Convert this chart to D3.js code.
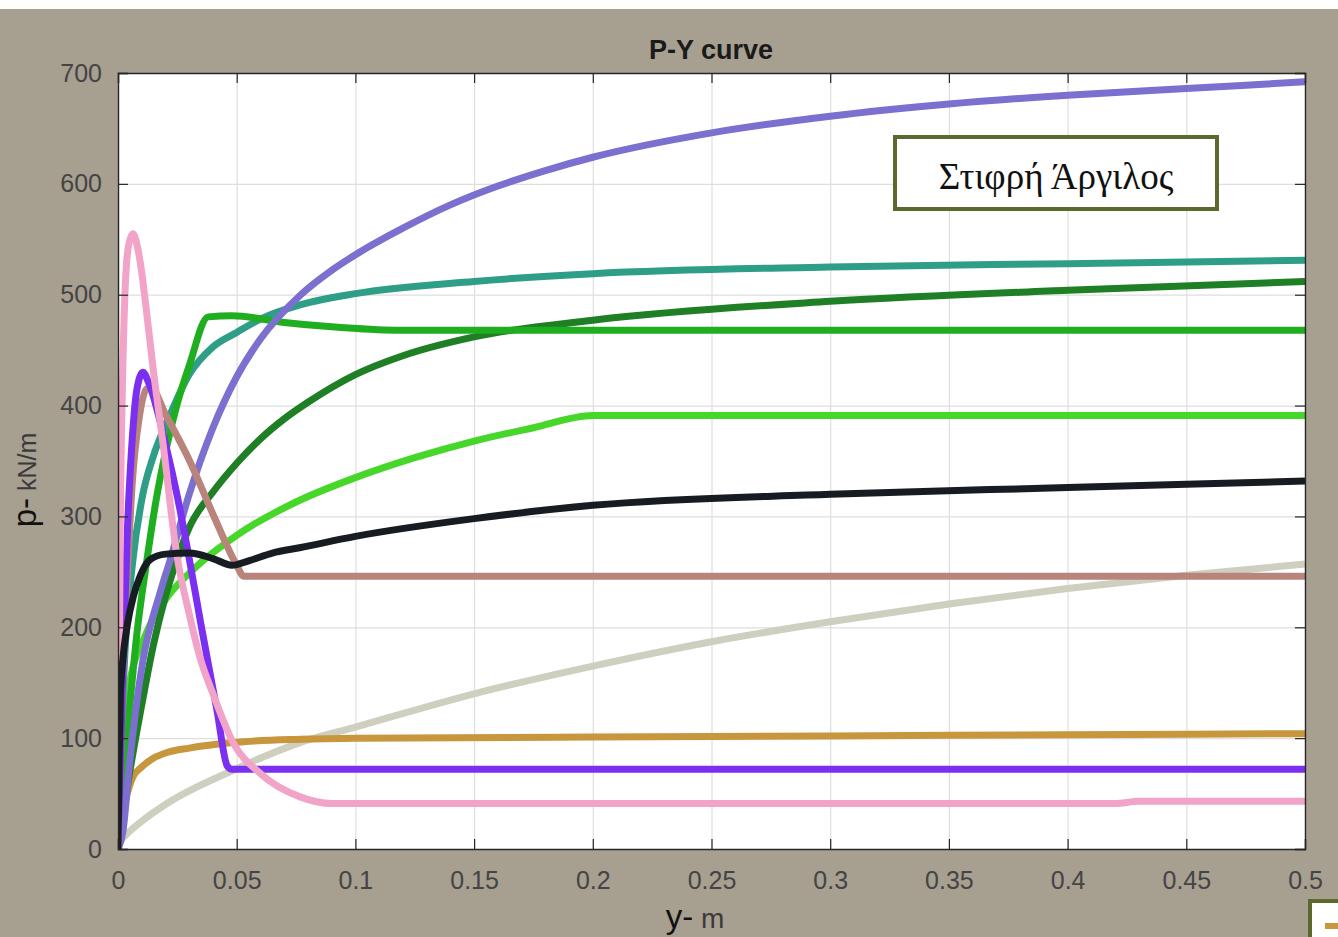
<!DOCTYPE html>
<html>
<head>
<meta charset="utf-8">
<script src="https://cdn.jsdelivr.net/npm/d3@7"></script>
<style>
  html, body { margin: 0; padding: 0; background: #ffffff; }
  svg { display: block; }
</style>
</head>
<body>
<svg id="chart"></svg>
<script>
// values: [y (m), p (kN/m)]
const purpleBlue = [[0,0],[0.002,15],[0.005,80],[0.0105,170],[0.0177,231],[0.022,261],[0.03,320],[0.04,380],[0.05,426],[0.06,460],[0.077,500],[0.09,522],[0.1,536],[0.12,560],[0.14,581],[0.16,598],[0.18,612],[0.2,624],[0.25,646],[0.3,661],[0.35,672],[0.4,680],[0.45,686],[0.5,692]];
const teal = [[0,0],[0.001,80],[0.003,180],[0.0063,261],[0.01,315],[0.015,355],[0.0206,385],[0.03,428],[0.04,453],[0.05,466],[0.06,478],[0.077,491],[0.1,501],[0.15,512],[0.2,519],[0.3,525],[0.4,528],[0.5,531]];
const green = [[0,0],[0.002,60],[0.005,130],[0.008,195],[0.012,258],[0.016,314],[0.02,358],[0.025,402],[0.03,436],[0.038,480],[0.048,481],[0.07,475],[0.09,471],[0.117,468],[0.3,468],[0.5,468]];
const darkGreen = [[0,0],[0.005,70],[0.01,130],[0.015,185],[0.02,228],[0.025,262],[0.03,290],[0.04,322],[0.05,348],[0.06,370],[0.07,388],[0.08,403],[0.1,428],[0.12,445],[0.15,462],[0.2,477],[0.3,494],[0.4,504],[0.5,512]];
const lime = [[0,0],[0.001,60],[0.002,100],[0.0042,141],[0.012,195],[0.02,225],[0.0316,252],[0.05,283],[0.075,313],[0.1,335],[0.125,353],[0.15,368],[0.175,380],[0.2,391],[0.3,391],[0.5,391]];
const black = [[0,0],[0.0005,80],[0.001,140],[0.002,170],[0.004,203],[0.0065,228],[0.0093,246],[0.0135,261],[0.02,266],[0.03,267],[0.04,262],[0.048,256],[0.055,260],[0.065,267],[0.077,272],[0.1,282],[0.15,298],[0.2,310],[0.3,320],[0.4,326],[0.5,332]];
const brown = [[0,0],[0.002,150],[0.004,250],[0.006,330],[0.009,390],[0.012,415],[0.014,416],[0.02,392],[0.03,351],[0.04,302],[0.05,256],[0.053,246],[0.2,246],[0.5,246]];
const violet = [[0,0],[0.002,160],[0.004,290],[0.006,370],[0.008,415],[0.0105,430],[0.013,420],[0.0206,360],[0.025,318],[0.03,262],[0.035,202],[0.0417,125],[0.046,75],[0.048,72],[0.2,72],[0.5,72]];
const pink = [[0,0],[0.001,300],[0.002,430],[0.003,505],[0.0045,545],[0.0063,555],[0.008,545],[0.01,520],[0.012,485],[0.015,430],[0.019,365],[0.0248,265],[0.03,212],[0.0345,173],[0.04,140],[0.0485,96],[0.06,68],[0.0767,47],[0.09,41],[0.2,41],[0.42,41],[0.43,43],[0.5,43]];
const gold = [[0,0],[0.001,20],[0.003,42],[0.0063,65],[0.01,74],[0.015,82],[0.0206,87],[0.03,91],[0.0485,96],[0.0767,99],[0.1,100],[0.2,101],[0.3,102],[0.4,103],[0.5,104]];
const beige = [[0,5],[0.003,12],[0.01,25],[0.0206,41],[0.0485,71],[0.0767,96],[0.1,110],[0.15,140],[0.2,165],[0.25,187],[0.3,205],[0.35,221],[0.4,235],[0.45,247],[0.5,257]];

// drawing order, bottom to top
const seriesList = [beige, gold, lime, darkGreen, teal, green, purpleBlue, brown, violet, pink, black];
const seriesColors = ['#cfcfbf', '#c8963c', '#47d72a', '#1f7f25', '#2e9e87', '#1fae1f', '#7b6fd0', '#b8847c', '#7b2ff0', '#f1a3c8', '#161c22'];

const xTicks = [0, 0.05, 0.1, 0.15, 0.2, 0.25, 0.3, 0.35, 0.4, 0.45, 0.5];
const yTicks = [0, 100, 200, 300, 400, 500, 600, 700];

const titleText = 'P-Y curve';
const legendText = 'Στιφρή Άργιλος';

const width = 1338;
const height = 937;
const plot = { left: 118, right: 1305, top: 73, bottom: 849 };

const svg = d3.select('#chart')
  .attr('width', width)
  .attr('height', height);

// figure background (grey, with a white strip on top)
svg.append('rect')
  .attr('x', 0).attr('y', 9)
  .attr('width', width).attr('height', height - 9)
  .attr('fill', '#a79f90');

const x = d3.scaleLinear().domain([0, 0.5]).range([plot.left, plot.right]);
const y = d3.scaleLinear().domain([0, 700]).range([plot.bottom, plot.top]);

svg.append('rect')
  .attr('x', plot.left).attr('y', plot.top)
  .attr('width', plot.right - plot.left).attr('height', plot.bottom - plot.top)
  .attr('fill', '#ffffff');

// grid
const grid = svg.append('g').attr('class', 'grid');
grid.append('g')
  .attr('transform', `translate(0,${plot.bottom})`)
  .call(d3.axisBottom(x).tickValues(xTicks).tickSize(-(plot.bottom - plot.top)).tickFormat(''));
grid.append('g')
  .attr('transform', `translate(${plot.left},0)`)
  .call(d3.axisLeft(y).tickValues(yTicks).tickSize(-(plot.right - plot.left)).tickFormat(''));
grid.selectAll('.domain').remove();
grid.selectAll('line').attr('stroke', '#dedede').attr('stroke-width', 1.2);

// curves
const clipId = 'plot-clip';
svg.append('clipPath').attr('id', clipId)
  .append('rect')
  .attr('x', plot.left).attr('y', plot.top - 4)
  .attr('width', plot.right - plot.left).attr('height', plot.bottom - plot.top + 4);

const line = d3.line()
  .x((d) => x(d[0]))
  .y((d) => y(d[1]))
  .curve(d3.curveMonotoneX);

svg.append('g')
  .attr('clip-path', `url(#${clipId})`)
  .selectAll('path')
  .data(seriesList)
  .enter()
  .append('path')
  .attr('d', line)
  .attr('fill', 'none')
  .attr('stroke', (d, i) => seriesColors[i])
  .attr('stroke-width', 7)
  .attr('stroke-linejoin', 'round');

// axes with inward ticks and labels
const tickColor = '#262626';
const labelColor = '#444444';
const fontAxis = '"Liberation Sans", Arial, sans-serif';

const xAxis = svg.append('g')
  .attr('transform', `translate(0,${plot.bottom})`)
  .call(d3.axisBottom(x).tickValues(xTicks).tickSize(-10).tickPadding(22).tickFormat((d) => d3.format('')(d)));
const yAxis = svg.append('g')
  .attr('transform', `translate(${plot.left},0)`)
  .call(d3.axisLeft(y).tickValues(yTicks).tickSize(-10).tickPadding(16));
const xTop = svg.append('g')
  .attr('transform', `translate(0,${plot.top})`)
  .call(d3.axisTop(x).tickValues(xTicks).tickSize(-10).tickFormat(''));
const yRight = svg.append('g')
  .attr('transform', `translate(${plot.right},0)`)
  .call(d3.axisRight(y).tickValues(yTicks).tickSize(-10).tickFormat(''));

[xAxis, yAxis, xTop, yRight].forEach((g) => {
  g.select('.domain').attr('stroke', tickColor).attr('stroke-width', 1.4);
  g.selectAll('.tick line').attr('stroke', tickColor).attr('stroke-width', 1.2);
  g.selectAll('.tick text')
    .attr('fill', labelColor)
    .style('font-family', fontAxis)
    .style('font-size', '25px');
});

// title and axis labels
svg.append('text')
  .attr('x', 711).attr('y', 59)
  .attr('text-anchor', 'middle')
  .style('font-family', fontAxis)
  .style('font-size', '27px')
  .style('font-weight', 'bold')
  .attr('fill', '#1a1a1a')
  .text(titleText);

const xLabel = svg.append('text')
  .attr('x', 695).attr('y', 928)
  .attr('text-anchor', 'middle')
  .style('font-family', fontAxis)
  .attr('fill', '#111');
xLabel.append('tspan').style('font-size', '33px').text('y-');
xLabel.append('tspan').style('font-size', '28px').attr('fill', '#3a3a3a').text(' m');

const yLabel = svg.append('text')
  .attr('transform', 'translate(36,480) rotate(-90)')
  .attr('text-anchor', 'middle')
  .style('font-family', fontAxis)
  .attr('fill', '#111');
yLabel.append('tspan').style('font-size', '33px').text('p-');
yLabel.append('tspan').style('font-size', '25px').attr('fill', '#3a3a3a').text(' kN/m');

// legend box
svg.append('rect')
  .attr('x', 895).attr('y', 137)
  .attr('width', 322).attr('height', 72)
  .attr('fill', '#ffffff')
  .attr('stroke', '#5a6a2e')
  .attr('stroke-width', 4);
svg.append('text')
  .attr('x', 1056).attr('y', 189)
  .attr('text-anchor', 'middle')
  .style('font-family', '"Liberation Serif", "Times New Roman", serif')
  .style('font-size', '37px')
  .attr('fill', '#111')
  .text(legendText);

// cut-off second box in the bottom-right corner
svg.append('rect')
  .attr('x', 1310).attr('y', 901)
  .attr('width', 60).attr('height', 60)
  .attr('fill', '#ffffff')
  .attr('stroke', '#5a6a2e')
  .attr('stroke-width', 4);
svg.append('line')
  .attr('x1', 1325).attr('x2', 1338)
  .attr('y1', 926).attr('y2', 926)
  .attr('stroke', seriesColors[1])
  .attr('stroke-width', 6);
</script>
</body>
</html>
